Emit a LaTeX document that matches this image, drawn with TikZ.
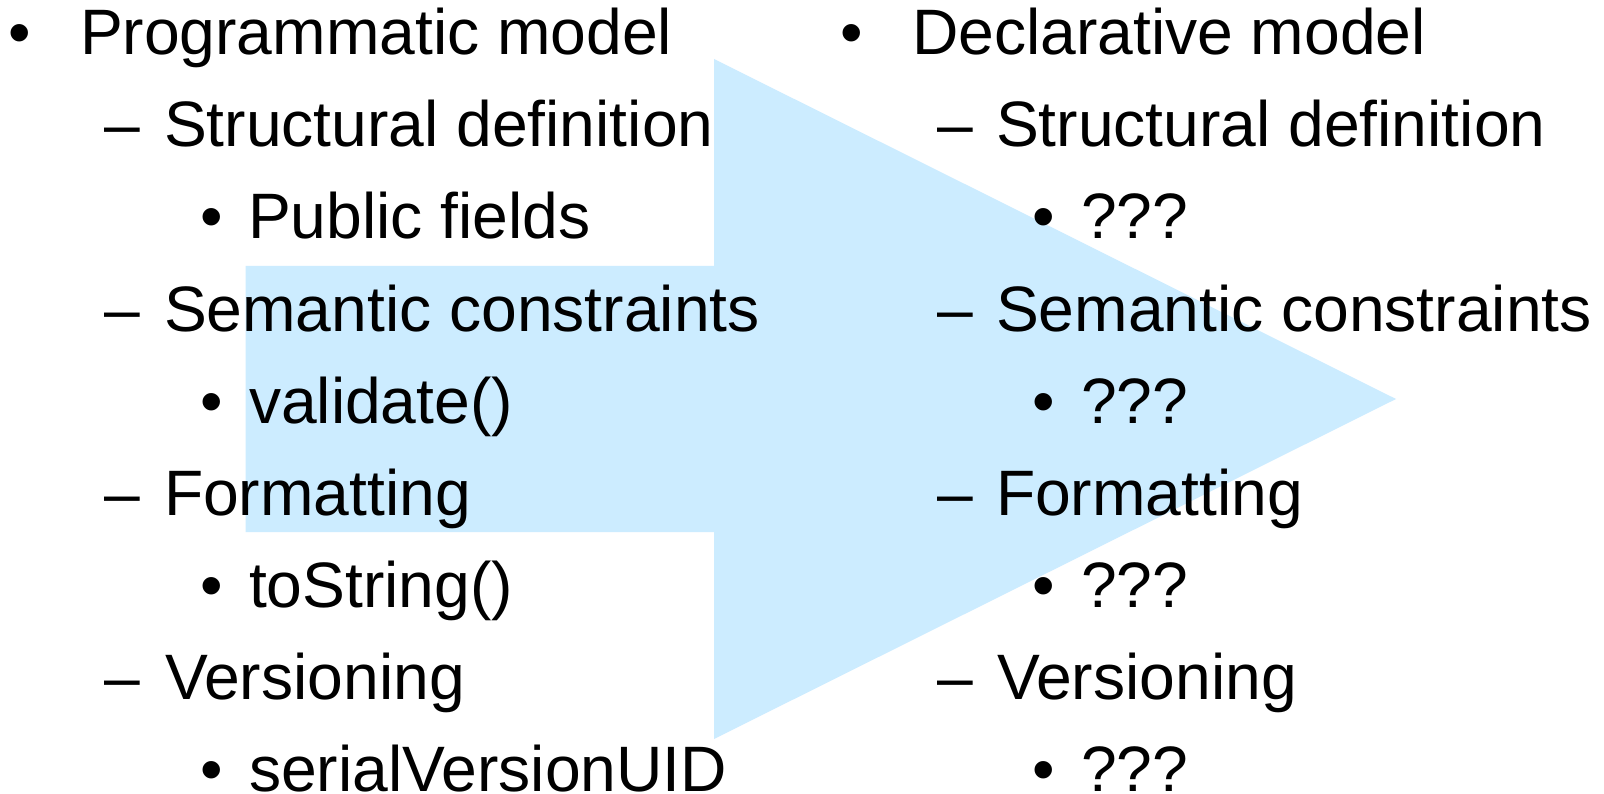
\documentclass[tikz,border=0pt]{standalone}
\usepackage{fontspec}
\setmainfont{Liberation Sans}
\definecolor{arrowblue}{RGB}{204,236,255}
\begin{document}
\begin{tikzpicture}[x=1pt,y=-1pt,
  txt/.style={anchor=base west,inner sep=0pt,outer sep=0pt,font=\fontsize{64.2}{70}\selectfont,text=black},
  bul/.style={anchor=base,inner sep=0pt,outer sep=0pt,font=\fontsize{64.2}{70}\selectfont,text=black},
  lastline/.style={text depth=0pt},
  bigarrow/.style={fill=arrowblue,draw=none}]
\useasboundingbox (0,0) rectangle (1604,794);
\fill[white] (0,0) rectangle (1604,794);
% big arrow
\coordinate (a1) at (245.6,266);
\coordinate (a2) at (714,266);
\coordinate (a3) at (714,59);
\coordinate (a4) at (1396,399);
\coordinate (a5) at (714,739);
\coordinate (a6) at (714,532);
\coordinate (a7) at (245.6,532);
\fill[bigarrow] (a1) -- (a2) -- (a3) -- (a4) -- (a5) -- (a6) -- (a7) -- cycle;
% left column
\node[bul] (lb1) at (20,55) {•};
\node[txt] (l1) at (80,55) {Programmatic model};
\node[bul] (ld2) at (122,147) {–};
\node[txt] (l2) at (164,147) {Structural definition};
\node[bul] (lb3) at (212,239) {•};
\node[txt] (l3) at (248,239) {Public fields};
\node[bul] (ld4) at (122,331) {–};
\node[txt] (l4) at (164,331) {Semantic constraints};
\node[bul] (lb5) at (212,423) {•};
\node[txt] (l5) at (249,423) {validate()};
\node[bul] (ld6) at (122,515) {–};
\node[txt] (l6) at (164,515) {Formatting};
\node[bul] (lb7) at (212,607) {•};
\node[txt] (l7) at (249,607) {toString()};
\node[bul] (ld8) at (122,699) {–};
\node[txt] (l8) at (165,699) {Versioning};
\node[bul,lastline] (lb9) at (212,791) {•};
\node[txt,lastline] (l9) at (249,791) {serialVersionUID};
% right column
\node[bul] (rb1) at (852,55) {•};
\node[txt] (r1) at (912,55) {Declarative model};
\node[bul] (rd2) at (955,147) {–};
\node[txt] (r2) at (996,147) {Structural definition};
\node[bul] (rb3) at (1044,239) {•};
\node[txt] (r3) at (1081,239) {???};
\node[bul] (rd4) at (955,331) {–};
\node[txt] (r4) at (996,331) {Semantic constraints};
\node[bul] (rb5) at (1044,423) {•};
\node[txt] (r5) at (1081,423) {???};
\node[bul] (rd6) at (955,515) {–};
\node[txt] (r6) at (996,515) {Formatting};
\node[bul] (rb7) at (1044,607) {•};
\node[txt] (r7) at (1081,607) {???};
\node[bul] (rd8) at (955,699) {–};
\node[txt] (r8) at (997,699) {Versioning};
\node[bul,lastline] (rb9) at (1044,791) {•};
\node[txt,lastline] (r9) at (1081,791) {???};
\end{tikzpicture}
\end{document}
